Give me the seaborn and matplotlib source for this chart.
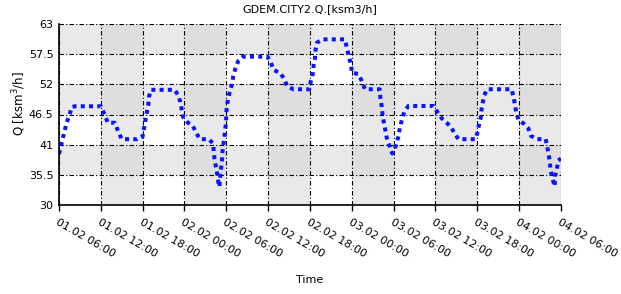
import numpy as np
import pandas as pd
import matplotlib
matplotlib.use("Agg")
import matplotlib.pyplot as plt
import matplotlib.dates as mdates
from matplotlib.colors import ListedColormap
import seaborn as sns

# ---- data (hours after 01.02 06:00, flow values) ----
hours = [0, 0.57, 1.1, 1.48, 1.86, 2.3, 6.0, 6.6, 7.0, 8.0, 8.5, 9.0, 11.2, 12.0,
         12.2, 12.4, 12.6, 12.8, 12.9, 13.2, 16.6, 17.1, 17.4, 17.6, 17.8, 18.5,
         19.2, 19.75, 20.2, 21.5, 22.1, 22.3, 22.5, 22.7, 22.85, 23.0, 23.2, 23.35,
         23.5, 23.7, 23.8, 23.95, 24.0, 24.05, 24.25, 24.5, 24.8, 25.0, 25.3, 25.7,
         26.4, 29.9, 30.4, 30.8, 31.7, 32.3, 32.7, 33.6, 35.9, 36.1, 36.4, 36.5,
         36.7, 36.8, 37.0, 37.8, 41.0, 41.3, 41.6, 41.9, 42.0, 42.9, 43.4, 43.9,
         46.0, 46.1, 46.3, 46.4, 46.6, 46.8, 47.0, 47.4, 47.8, 48.1, 48.4, 48.7,
         48.9, 49.2, 49.5, 50.1, 53.7, 54.3, 54.9, 55.5, 56.2, 56.7, 57.3, 59.7,
         60.0, 60.2, 60.5, 60.6, 60.8, 61.0, 61.4, 64.9, 65.2, 65.4, 65.6, 65.9,
         66.6, 67.3, 67.7, 68.5, 69.8, 70.0, 70.2, 70.4, 70.5, 70.75, 71.0, 71.1,
         71.15, 71.4, 71.6, 72.0]
values = [39.3, 42.3, 45.0, 46.4, 47.9, 48.0, 48.0, 46.3, 45.0, 45.0, 43.4, 42.0, 42.0, 42.5,
          44.0, 45.5, 46.9, 48.2, 49.7, 51.0, 51.0, 50.0, 48.8, 47.4, 46.0, 45.0,
          44.4, 43.0, 42.0, 42.0, 41.2, 38.4, 37.0, 35.6, 34.2, 33.3, 36.3, 37.7,
          40.5, 42.0, 43.4, 44.9, 46.4, 47.8, 49.3, 50.7, 52.0, 53.5, 54.9, 56.25,
          57.05, 57.05, 55.9, 54.6, 54.1, 53.0, 51.7, 51.1, 51.1, 52.5, 53.9, 55.3,
          56.7, 58.3, 59.6, 60.2, 60.2, 58.6, 57.0, 55.5, 54.1, 53.9, 52.7, 51.1,
          51.1, 49.5, 47.9, 46.5, 45.0, 43.7, 42.3, 40.8, 39.4, 40.0, 41.2, 42.6,
          44.2, 45.6, 46.9, 48.05, 48.05, 46.9, 45.8, 45.1, 44.3, 43.1, 42.0, 42.0,
          43.1, 44.4, 46.0, 47.4, 48.8, 50.0, 51.1, 51.1, 49.7, 48.2, 46.8, 45.5,
          44.9, 44.0, 42.6, 42.0, 42.0, 40.8, 39.4, 37.9, 36.4, 35.0, 33.8, 33.4,
          35.3, 36.5, 38.1, 38.5]

start = pd.Timestamp("2024-02-01 06:00")
end = pd.Timestamp("2024-02-04 06:00")
yticks = [30, 35.5, 41, 46.5, 52, 57.5, 63]
ytick_labels = ["30", "35.5", "41", "46.5", "52", "57.5", "63"]
title = "GDEM.CITY2.Q.[ksm3/h]"
ylabel = "Q [ksm$^3$/h]"
xlabel = "Time"

df = pd.DataFrame({"time": start + pd.to_timedelta(hours, unit="h"), "Q": values})
xtick_times = pd.date_range(start, end, freq="6h")
xtick_labels = [f"{t.day:02d}.02 {t.strftime('%H:%M')}" for t in xtick_times]

sns.set_theme(style="white")
plt.rcParams["font.family"] = ["DejaVu Sans"]
plt.rcParams["text.color"] = "black"
plt.rcParams["xtick.color"] = "black"
plt.rcParams["ytick.color"] = "black"

fig = plt.figure(figsize=(6.21, 2.94), dpi=100)
ax = fig.add_axes([59 / 621, 1 - 205 / 294, 502 / 621, 181 / 294])

# checkerboard background
xe = mdates.date2num(xtick_times.to_pydatetime())
ye = np.array(yticks)
ci, ri = np.meshgrid(np.arange(len(xe) - 1), np.arange(len(ye) - 1))
shade = (ci % 2) + (ri % 2)
cmap = ListedColormap(["#ffffff", "#e9e9e9", "#dedede"])
ax.pcolormesh(xe, ye, shade, cmap=cmap, vmin=-0.5, vmax=2.5, zorder=0, shading="flat")

sns.lineplot(data=df, x="time", y="Q", ax=ax, color="#0a14ff", linewidth=2.9,
             zorder=3)
ax.lines[-1].set_linestyle((0, (1, 1.05)))
ax.lines[-1].set_dash_capstyle("butt")

ax.set_xlim(start, end)
ax.set_ylim(30, 63)
ax.set_yticks(yticks)
ax.set_yticklabels(ytick_labels)
ax.set_xticks(xtick_times)
ax.set_xticklabels(xtick_labels)

for lab in ax.get_xticklabels():
    lab.set_rotation(-30)
    lab.set_ha("left")
    lab.set_va("top")
    lab.set_rotation_mode("anchor")
    lab.set_color("black")
for lab in ax.get_yticklabels():
    lab.set_color("black")

ax.tick_params(axis="x", length=4, width=1, color="black", direction="out",
               labelsize=8, pad=5, bottom=True, labelcolor="black")
ax.tick_params(axis="y", length=0, labelsize=8, pad=4, labelcolor="black")

ax.grid(True, color="black", linestyle=(0, (4, 2, 1, 2)), linewidth=0.8, zorder=1)
ax.set_axisbelow(False)
for gl in ax.get_xgridlines() + ax.get_ygridlines():
    gl.set_zorder(1)

for s in ["top", "right"]:
    ax.spines[s].set_visible(False)
for s in ["left", "bottom"]:
    ax.spines[s].set_color("black")
    ax.spines[s].set_linewidth(1.2)
    ax.spines[s].set_zorder(4)

ax.set_xlabel("")
ax.set_ylabel("")
fig.text(310 / 621, 1 - 9 / 294, title, ha="center", va="center", fontsize=8, color="black")
fig.text(19 / 621, 1 - 104 / 294, ylabel, ha="center", va="center", rotation=90,
         fontsize=8.5, color="black")
fig.text(310 / 621, 1 - 280 / 294, xlabel, ha="center", va="center", fontsize=8, color="black")

fig.savefig("out.png", dpi=100)
